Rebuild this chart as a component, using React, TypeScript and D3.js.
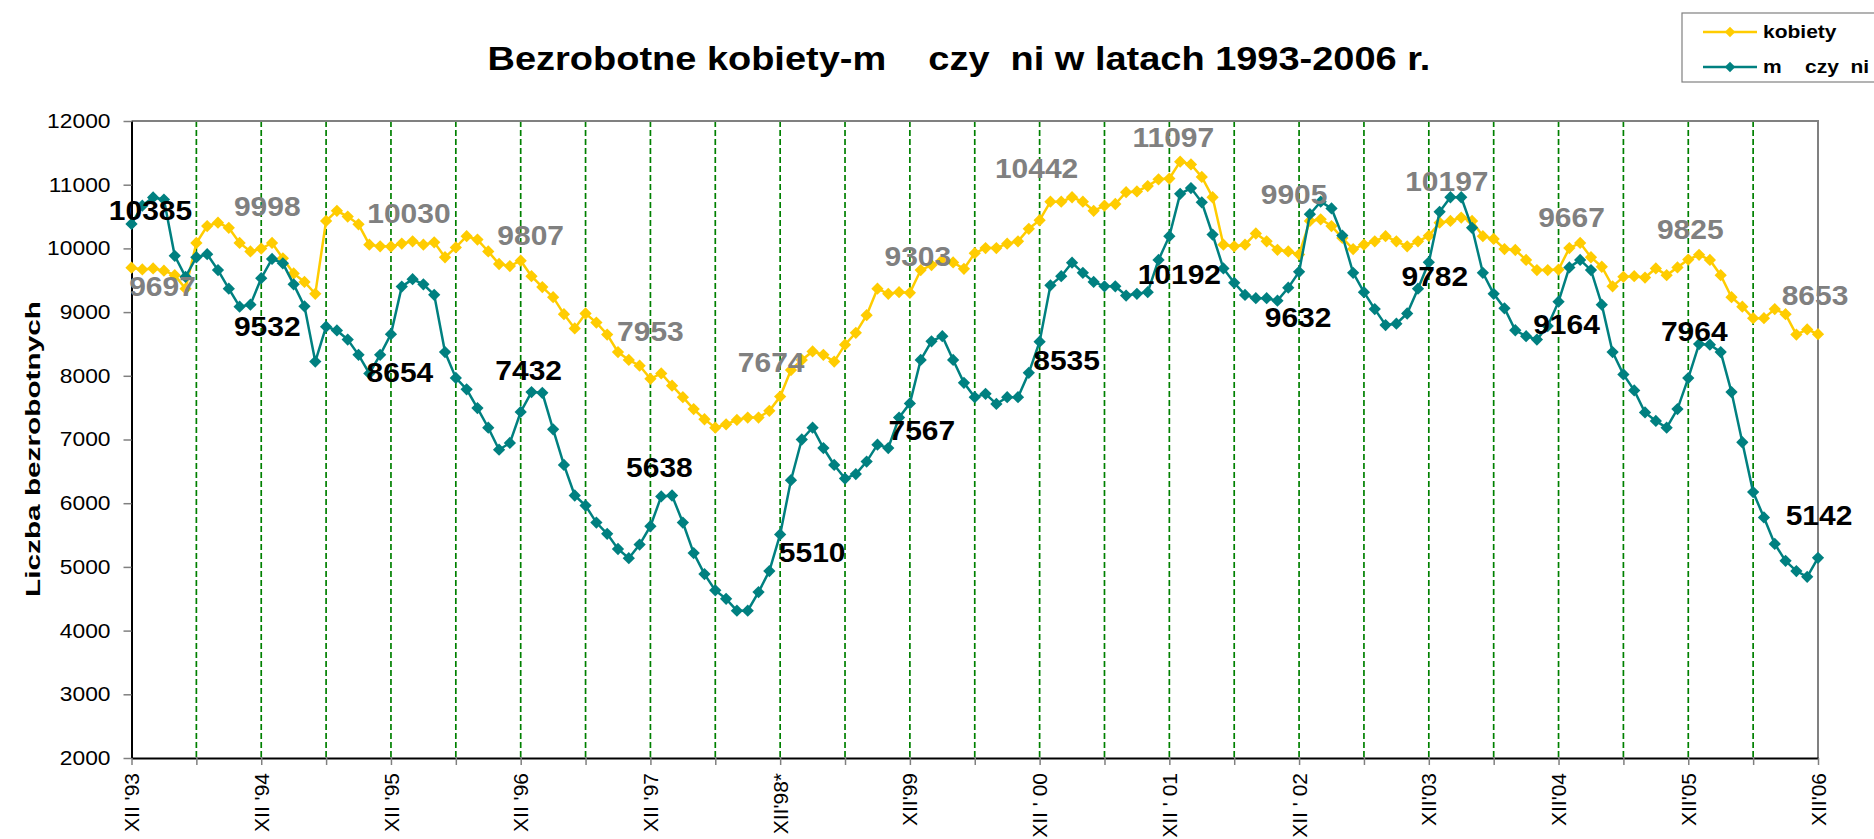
import * as d3 from 'd3'
import {useEffect, useRef} from 'react'

// monthly values, XII 1993 .. XII 2006 (157 months)
const women = [
  9697, 9670, 9686, 9650, 9580, 9367, 10085, 10351, 10404, 10324, 10085, 9952,
  9998, 10085, 9845, 9606, 9473, 9287, 10431, 10590, 10500, 10378, 10058, 10032,
  10030, 10075, 10111, 10058, 10095, 9861, 10016, 10191, 10138, 9952, 9755, 9723,
  9807, 9563, 9393, 9234, 8968, 8744, 8978, 8835, 8648, 8372, 8249, 8159,
  7953, 8037, 7845, 7664, 7478, 7318, 7185, 7238, 7308, 7345, 7345, 7451,
  7674, 8090, 8249, 8382, 8329, 8223, 8489, 8675, 8952, 9367, 9287, 9313,
  9303, 9659, 9739, 9819, 9780, 9680, 9925, 10005, 10005, 10074, 10111, 10308,
  10442, 10734, 10734, 10803, 10734, 10590, 10670, 10697, 10883, 10894, 10979, 11085,
  11097, 11362, 11319, 11122, 10803, 10058, 10032, 10058, 10234, 10111, 9978, 9952,
  9905, 10431, 10457, 10351, 10165, 9989, 10058, 10111, 10191, 10111, 10032, 10111,
  10197, 10404, 10431, 10484, 10431, 10191, 10149, 9990, 9975, 9819, 9659, 9659,
  9667, 10005, 10085, 9861, 9712, 9404, 9553, 9563, 9542, 9686, 9580, 9702,
  9825, 9899, 9819, 9580, 9234, 9085, 8904, 8904, 9047, 8968, 8648, 8728,
  8653,
]

const men = [
  10385, 10670, 10800, 10766, 9883, 9553, 9861, 9909, 9659, 9367, 9085, 9117,
  9532, 9835, 9766, 9436, 9090, 8223, 8771, 8712, 8569, 8329, 8037, 8329,
  8654, 9400, 9516, 9436, 9271, 8372, 7967, 7787, 7494, 7185, 6840, 6946,
  7432, 7744, 7733, 7159, 6600, 6121, 5962, 5696, 5520, 5281, 5137, 5350,
  5638, 6106, 6121, 5696, 5217, 4887, 4632, 4499, 4313, 4313, 4605, 4935,
  5510, 6361, 7000, 7185, 6866, 6600, 6387, 6457, 6653, 6919, 6866, 7345,
  7567, 8249, 8542, 8622, 8249, 7890, 7664, 7717, 7558, 7664, 7664, 8047,
  8535, 9420, 9563, 9776, 9617, 9473, 9404, 9404, 9260, 9287, 9313, 9819,
  10192, 10856, 10947, 10723, 10218, 9686, 9460, 9270, 9218, 9218, 9180, 9383,
  9632, 10537, 10734, 10627, 10202, 9617, 9313, 9047, 8797, 8818, 8978, 9367,
  9782, 10574, 10803, 10803, 10324, 9617, 9287, 9060, 8715, 8622, 8569, 8781,
  9164, 9702, 9819, 9659, 9117, 8372, 8021, 7771, 7425, 7292, 7185, 7478,
  7964, 8499, 8489, 8372, 7744, 6957, 6175, 5776, 5361, 5095, 4935, 4845,
  5142,
]

const yearLabels = [
  "XII '93", "XII '94", "XII '95", "XII '96", "XII '97", "XII'98*", "XII'99",
  "XII ' 00", "XII ' 01", "XII ' 02", "XII'03", "XII'04", "XII'05", "XII'06",
]
const yTicks = [2000, 3000, 4000, 5000, 6000, 7000, 8000, 9000, 10000, 11000, 12000]

// placement of the December value labels relative to their point
const womenLabelOffsets = [
  [31, 28], [6, -33], [18, -23], [10, -16], [0, -38], [-9, -25], [8, -27],
  [-3, -42], [4, -32], [-5, -50], [18, -45], [13, -43], [2, -21], [-3, -29],
]
const menLabelOffsets = [
  [19, -4], [6, 58], [9, 48], [8, -32], [9, -49], [32, 28], [12, 37],
  [27, 28], [10, 48], [-1, 55], [6, 24], [8, 32], [6, -37], [1, -33],
]

const W = 1874
const H = 839
const margin = {top: 121, right: 56, bottom: 81, left: 131.5}
const FONT = "'Liberation Sans', Arial, sans-serif"
const YELLOW = '#FFCC00'
const TEAL = '#008080'

function stretch(sel: any, k: number) {
  sel.each(function (this: SVGTextElement) {
    const w = this.getComputedTextLength()
    d3.select(this).attr('textLength', w * k).attr('lengthAdjust', 'spacingAndGlyphs')
  })
}

export default function App() {
  const ref = useRef<SVGSVGElement>(null)

  useEffect(() => {
    const svg = d3.select(ref.current)
    svg.selectAll('*').remove()
    svg.append('rect').attr('width', W).attr('height', H).attr('fill', '#fff')

    const x = d3.scaleLinear().domain([0, women.length - 1]).range([margin.left, W - margin.right])
    const y = d3.scaleLinear().domain([2000, 12000]).range([H - margin.bottom, margin.top])

    // title
    const title = svg
      .append('text')
      .attr('x', 959)
      .attr('y', 70)
      .attr('text-anchor', 'middle')
      .style('white-space', 'pre')
      .attr('font-family', FONT)
      .attr('font-weight', 'bold')
      .attr('font-size', 33)
      .text('Bezrobotne kobiety-m    czy  ni w latach 1993-2006 r.')
    stretch(title, 1.15)

    // vertical grid every 6 months
    const gridMonths = d3.range(6, women.length - 1, 6)
    svg
      .append('g')
      .selectAll('line')
      .data(gridMonths)
      .enter()
      .append('line')
      .attr('x1', d => x(d))
      .attr('x2', d => x(d))
      .attr('y1', y(12000))
      .attr('y2', y(2000))
      .attr('stroke', '#008000')
      .attr('stroke-width', 1.7)
      .attr('stroke-dasharray', '6,3')

    // plot frame top / right
    svg
      .append('path')
      .attr('d', `M${x(0)},${y(12000)}H${x(women.length - 1)}V${y(2000)}`)
      .attr('fill', 'none')
      .attr('stroke', '#808080')
      .attr('stroke-width', 2)

    // y axis
    const yAxis = d3
      .axisLeft(y)
      .tickValues(yTicks)
      .tickFormat(d3.format('d'))
      .tickSize(8)
      .tickSizeOuter(0)
      .tickPadding(13)
    const gy = svg.append('g').attr('transform', `translate(${margin.left},0)`).call(yAxis)
    gy.select('.domain').attr('stroke', '#000').attr('stroke-width', 2)
    gy.selectAll('.tick line').attr('stroke', '#808080').attr('stroke-width', 1.5)
    const yt = gy.selectAll('.tick text').attr('font-family', FONT).attr('font-size', 20).attr('fill', '#000')
    stretch(yt, 1.14)

    // x axis
    const xAxis = d3
      .axisBottom(x)
      .tickValues(d3.range(0, women.length, 6))
      .tickSize(7)
      .tickSizeOuter(0)
      .tickFormat(() => '')
    const gx = svg.append('g').attr('transform', `translate(0,${y(2000)})`).call(xAxis)
    gx.select('.domain').attr('stroke', '#000').attr('stroke-width', 2)
    gx.selectAll('.tick line').attr('stroke', '#808080').attr('stroke-width', 1.5)

    svg
      .append('g')
      .selectAll('text')
      .data(yearLabels)
      .enter()
      .append('text')
      .attr('transform', (_, i) => `translate(${x(i * 12)},${y(2000) + 15}) rotate(-90)`)
      .attr('text-anchor', 'end')
      .attr('dy', '0.36em')
      .style('white-space', 'pre')
      .attr('font-family', FONT)
      .attr('font-size', 21)
      .text(d => d)

    // y axis title
    svg
      .append('text')
      .attr('transform', 'translate(40,449) rotate(-90)')
      .attr('text-anchor', 'middle')
      .attr('font-family', FONT)
      .attr('font-weight', 'bold')
      .attr('font-size', 21)
      .attr('textLength', 296)
      .attr('lengthAdjust', 'spacingAndGlyphs')
      .text('Liczba bezrobotnych')

    // series
    const line = d3
      .line<number>()
      .x((_, i) => x(i))
      .y(d => y(d))
    const diamond = d3.symbol(d3.symbolDiamond2, 96)

    const series = [
      {values: women, color: YELLOW},
      {values: men, color: TEAL},
    ]
    for (const s of series) {
      svg
        .append('path')
        .datum(s.values)
        .attr('d', line)
        .attr('fill', 'none')
        .attr('stroke', s.color)
        .attr('stroke-width', 2.5)
      svg
        .append('g')
        .selectAll('path')
        .data(s.values)
        .enter()
        .append('path')
        .attr('d', diamond)
        .attr('transform', (d, i) => `translate(${x(i)},${y(d)})`)
        .attr('fill', s.color)
    }

    // December value labels
    const labels = [
      {values: women, offsets: womenLabelOffsets, color: '#808080'},
      {values: men, offsets: menLabelOffsets, color: '#000'},
    ]
    for (const l of labels) {
      const t = svg
        .append('g')
        .selectAll('text')
        .data(l.offsets)
        .enter()
        .append('text')
        .attr('x', (o, i) => x(i * 12) + o[0])
        .attr('y', (o, i) => y(l.values[i * 12]) + o[1])
        .attr('text-anchor', 'middle')
        .attr('font-family', FONT)
        .attr('font-weight', 'bold')
        .attr('font-size', 28)
        .attr('fill', l.color)
        .text((_, i) => l.values[i * 12])
      stretch(t, 1.07)
    }

    // legend
    const lg = svg.append('g')
    lg.append('rect')
      .attr('x', 1682)
      .attr('y', 13)
      .attr('width', 200)
      .attr('height', 69)
      .attr('fill', '#fff')
      .attr('stroke', '#808080')
      .attr('stroke-width', 1.2)
    const legendItems = [
      {name: 'kobiety', color: YELLOW, y: 32},
      {name: 'm    czy  ni', color: TEAL, y: 67},
    ]
    for (const it of legendItems) {
      lg.append('line')
        .attr('x1', 1703)
        .attr('x2', 1757)
        .attr('y1', it.y)
        .attr('y2', it.y)
        .attr('stroke', it.color)
        .attr('stroke-width', 2.5)
      lg.append('path')
        .attr('d', d3.symbol(d3.symbolDiamond2, 70))
        .attr('transform', `translate(1730,${it.y})`)
        .attr('fill', it.color)
      const lt = lg
        .append('text')
        .attr('x', 1763)
        .attr('y', it.y + 6)
        .style('white-space', 'pre')
        .attr('font-family', FONT)
        .attr('font-weight', 'bold')
        .attr('font-size', 17.5)
        .text(it.name)
      stretch(lt, 1.2)
    }
  }, [])

  return (
    <div style={{position: 'absolute', left: 0, top: 0}}>
      <svg ref={ref} width={W} height={H} style={{display: 'block'}} />
    </div>
  )
}
